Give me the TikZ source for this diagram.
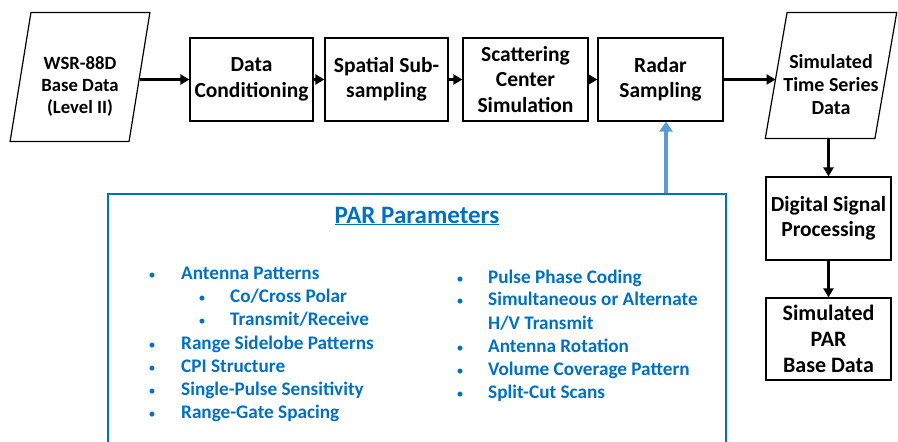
\documentclass[tikz,border=0pt]{standalone}
\usepackage{fontspec}
\setmainfont{Carlito}
\usepackage{tikz}
\usetikzlibrary{shapes.geometric,arrows.meta}
\definecolor{parblue}{HTML}{0070C0}
\definecolor{linkblue}{HTML}{5B9BD5}

\begin{document}
\begin{tikzpicture}[x=1pt,y=-1pt,
        box/.style={draw,line width=1.2pt,align=center,inner sep=0pt,
          font=\bfseries\fontsize{21.5}{25.5}\selectfont},
        slanted/.style={box,trapezium,trapezium left angle=78,
          trapezium right angle=102,trapezium stretches=true,text width=60pt},
        flow/.style={-{Triangle[length=9pt,width=10pt]},line width=2.6pt},
        item/.style={anchor=base west,inner sep=0pt,text=parblue,
          font=\bfseries\fontsize{19.2}{22}\selectfont},
        dot/.style={anchor=base,inner sep=0pt,text=parblue,
          font=\fontsize{14}{20}\selectfont}]
        \useasboundingbox (0,0) rectangle (898,442);
        \clip (0,0) rectangle (898,442);

        % processing chain
        \node[slanted,minimum width=141pt,minimum height=129pt,
          text height=40pt,text depth=20pt] (wsr) at (80,77) {};
        \node[align=center,inner sep=0pt,font=\bfseries\fontsize{18.7}{22}\selectfont]
          (wsrtext) at (80,86) {WSR-88D\\Base Data\\(Level II)};
        \node[box,minimum width=123pt,minimum height=83pt] (cond) at (251.5,79.5)
          {Data\\Conditioning};
        \node[box,minimum width=123pt,minimum height=83pt] (subsamp) at (386.5,79.5)
          {Spatial Sub-\\sampling};
        \node[box,minimum width=125pt,minimum height=83pt] (scatter) at (525.5,79.5)
          {Scattering\\Center\\Simulation};
        \node[box,minimum width=125pt,minimum height=83pt] (radar) at (660.5,79.5)
          {Radar\\Sampling};
        \node[slanted,minimum width=132pt,minimum height=126pt,
          text height=46pt,text depth=24pt] (series) at (831,75.5) {};
        \node[align=center,inner sep=0pt,font=\bfseries\fontsize{20}{23}\selectfont]
          (seriestext) at (831,85) {Simulated\\Time Series\\Data};
        \node[box,minimum width=125pt,minimum height=83pt] (dsp) at (828.5,218.5)
          {Digital Signal\\Processing};
        \node[box,minimum width=125pt,minimum height=82pt,
          font=\bfseries\fontsize{22}{26}\selectfont] (parbase) at (828.5,339)
          {Simulated\\PAR\\Base Data};

        \draw[flow] (wsr.east |- cond.west) -- (cond.west);
        \draw[flow] (cond) -- (subsamp);
        \draw[flow] (subsamp) -- (scatter);
        \draw[flow] (scatter) -- (radar);
        \draw[flow] (radar.east) -- (radar.east -| series.west);
        \draw[flow] (series.south -| dsp.north) -- (dsp.north);
        \draw[flow] (dsp) -- (parbase);

        % PAR parameters
        \node[draw=parblue,line width=2pt,minimum width=618pt,
          minimum height=280pt,inner sep=0pt] (params) at (417,334) {};
        \node[text=parblue,font=\bfseries\fontsize{25}{28}\selectfont]
          (title) at (417,216) {\underline{PAR Parameters}};
        \draw[-{Triangle[length=10pt,width=13pt]},line width=4.5pt,linkblue]
          ([xshift=5.5pt]radar.south |- params.north) -- ([xshift=5.5pt]radar.south);

        \node[dot] (d1) at (152,279) {•};
        \node[item] (p1) at (181,279) {Antenna Patterns};
        \node[dot] (d2) at (202,302) {•};
        \node[item] (p2) at (230,302) {Co/Cross Polar};
        \node[dot] (d3) at (202,325) {•};
        \node[item] (p3) at (230,325) {Transmit/Receive};
        \node[dot] (d4) at (152,349) {•};
        \node[item] (p4) at (181,349) {Range Sidelobe Patterns};
        \node[dot] (d5) at (152,372) {•};
        \node[item] (p5) at (181,372) {CPI Structure};
        \node[dot] (d6) at (152,395) {•};
        \node[item] (p6) at (181,395) {Single-Pulse Sensitivity};
        \node[dot] (d7) at (152,418) {•};
        \node[item] (p7) at (181,418) {Range-Gate Spacing};

        \node[dot] (d8) at (460,283) {•};
        \node[item] (p8) at (488,283) {Pulse Phase Coding};
        \node[dot] (d9) at (460,305) {•};
        \node[item] (p9) at (488,305) {Simultaneous or Alternate};
        \node[item] (p10) at (488,329) {H/V Transmit};
        \node[dot] (d11) at (460,352) {•};
        \node[item] (p11) at (488,352) {Antenna Rotation};
        \node[dot] (d12) at (460,375) {•};
        \node[item] (p12) at (488,375) {Volume Coverage Pattern};
        \node[dot] (d13) at (460,398) {•};
        \node[item] (p13) at (488,398) {Split-Cut Scans};
\end{tikzpicture}
\end{document}
